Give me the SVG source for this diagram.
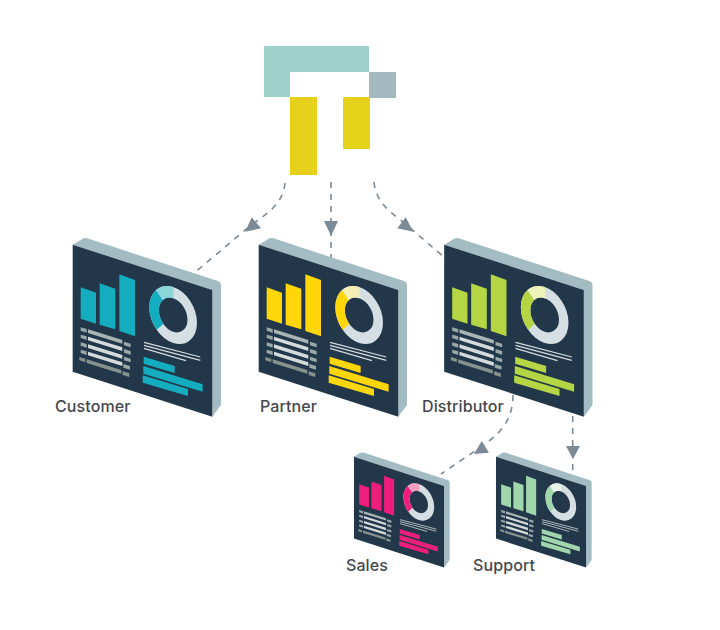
<svg xmlns="http://www.w3.org/2000/svg" xmlns:xlink="http://www.w3.org/1999/xlink" width="720" height="630" viewBox="0 0 720 630">
<style>
text{font-family:Inter,"Liberation Sans",sans-serif;font-size:16px;font-weight:500;fill:#44474d;letter-spacing:.1px}
.con{fill:none;stroke:#7c8a96;stroke-width:1.6;stroke-dasharray:6 6}
.head{fill:#7c8a96}
.acc{fill:var(--a)}
.cell{fill:#9ba8aa}
.row{fill:#d5dbdd}
.dim{fill:#87928f}
.ln{fill:none;stroke:#d5dbdd;stroke-width:3.6}
.mint{fill:#9ed1ca}
.yel{fill:#e6d21a}
</style>
<defs>
<g id="screen">
<path d="M38 44L68 26Q74 23 82 25L476 154Q483 157 483 165L483 525L457 560L457 180Z" fill="#a3bbc2"/>
<path d="M38 44L457 180L457 560L38 425Z" fill="#22374a"/>
<path class="acc" d="M62 172L108 188V281L62 266Z"/>
<path class="acc" d="M119 160L166 176V298L119 284Z"/>
<path class="acc" d="M178 133L225 150V319L178 303Z"/>
<g transform="matrix(.715 .232 0 .838 339.5 255)">
<circle r="80" fill="none" stroke="#d5dee3" stroke-width="40"/>
<circle r="80" fill="none" pathLength="360" stroke="var(--a)" stroke-width="40" stroke-dasharray="90 270" stroke-dashoffset="-133"/>
<circle r="80" fill="none" pathLength="360" stroke="var(--p)" stroke-width="40" stroke-dasharray="47 313" stroke-dashoffset="-223"/>
</g>
<path class="cell" d="M62 292L80 297V308L62 302Z"/><path class="cell" d="M62 314L80 319V330L62 324Z"/><path class="cell" d="M62 337L80 342V353L62 347Z"/><path class="cell" d="M62 359L80 364V375L62 369Z"/><path class="dim" d="M58 381L76 386V397L58 391Z"/>
<path class="cell" d="M84 298L187 330V341L84 309Z" style="fill:#aab4b5"/><path class="row" d="M84 320L187 352V363L84 331Z"/><path class="row" d="M84 343L187 375V386L84 354Z"/><path class="row" d="M84 365L187 397V408L84 376Z"/><path class="dim" d="M80 388L184 420V431L80 399Z"/>
<path class="cell" d="M192 335L212 341V352L192 346Z"/><path class="cell" d="M192 357L212 363V374L192 368Z"/><path class="cell" d="M192 380L212 386V397L192 391Z"/><path class="cell" d="M190 402L210 408V419L190 413Z"/><path class="dim" d="M188 424L208 430V441L188 435Z"/>
<path class="ln" d="M252 337L421 381M252 346L421 391M252 355L378 392"/>
<path class="acc" d="M251 380L344 408V429L251 401Z"/>
<path class="acc" d="M250 408L428 463V485L250 431Z"/>
<path class="acc" d="M248 436L384 477V498L248 458Z"/>
</g>
</defs>
<g id="connectors">
<path class="con" d="M285 183C283 205 265 215 250 226L193 274"/>
<path class="head" d="M251.700 217.300L261 228.300L245.300 231.700Z"/>
<path class="con" d="M331 182V262"/>
<path class="head" d="M324 221H338L331 236Z"/>
<path class="con" d="M374 182C376 205 395 215 408 226L445 258"/>
<path class="head" d="M405.700 217.300L413.300 231.700L397.300 228.300Z"/>
<path class="con" d="M513 395C513 425 495 437 478 449L441 474"/>
<path class="head" d="M481.700 441L489 452.700L474 454Z"/>
<path class="con" d="M572.700 416V476"/>
<path class="head" d="M566 446H580L573 459Z"/>
</g>
<g id="logo">
<path class="mint" d="M264 46H369V72H290V97H264Z"/>
<rect x="369" y="72" width="27" height="26" fill="#a3b8bf"/>
<rect class="yel" x="290" y="97" width="27" height="78"/>
<rect class="yel" x="343" y="97" width="27" height="52"/>
</g>
<g id="customer" style="--a:#14adbf;--p:#8ad6d8">
<use href="#screen" transform="translate(60 230) scale(.3333)"/>
<text x="55" y="412">Customer</text>
</g>
<g id="partner" style="--a:#ffd60a;--p:#f5efb5">
<use href="#screen" transform="translate(246 230) scale(.3333)"/>
<text x="260" y="412">Partner</text>
</g>
<g id="distributor" style="--a:#b5d545;--p:#edf3b8">
<use href="#screen" transform="translate(431.500 230) scale(.3333)"/>
<text x="422" y="412">Distributor</text>
</g>
<g id="sales" style="--a:#ee1e7c;--p:#f29cc0">
<use href="#screen" transform="translate(345.800 447.200) scale(.215)"/>
<text x="346" y="571">Sales</text>
</g>
<g id="support" style="--a:#a1d6ac;--p:#e8f5e8">
<use href="#screen" transform="translate(487.800 447.200) scale(.215)"/>
<text x="473" y="571">Support</text>
</g>
</svg>
